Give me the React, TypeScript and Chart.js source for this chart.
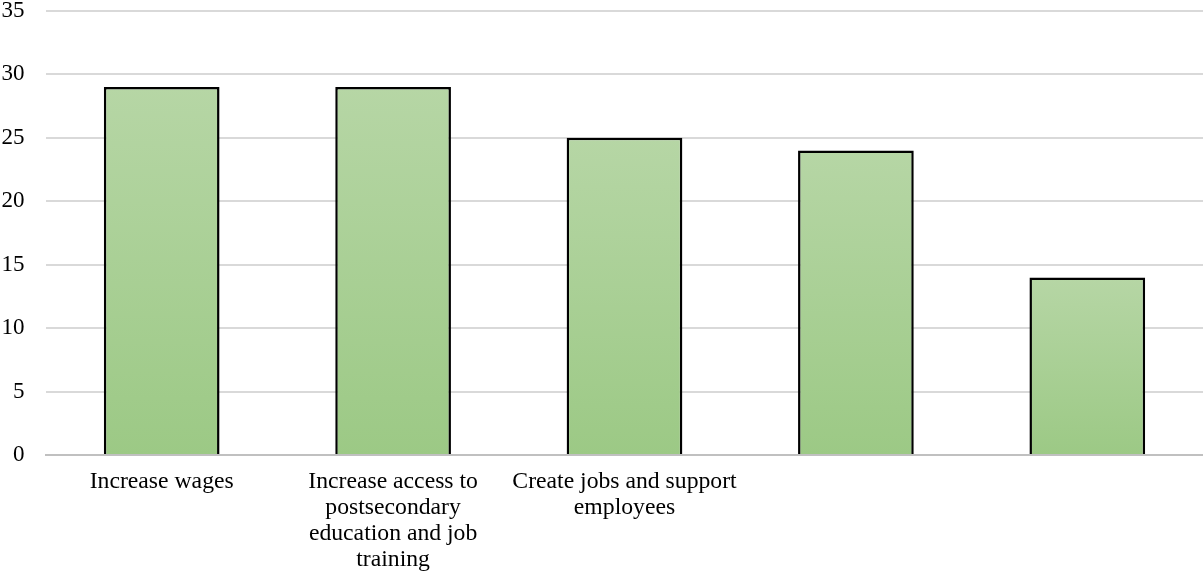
import React, { useEffect, useRef } from "react";
import { Chart, registerables } from "chart.js";

Chart.register(...registerables);

const categories: (string | string[])[] = [
  "Increase wages",
  ["Increase access to", "postsecondary", "education and job", "training"],
  ["Create jobs and support", "employees"],
  "",
  "",
];
const values = [29, 29, 25, 24, 14];
const yTicks = [0, 5, 10, 15, 20, 25, 30, 35];

export default function App() {
  const ref = useRef<HTMLCanvasElement>(null);
  useEffect(() => {
    document.body.style.margin = "0";
    const canvas = ref.current!;
    const chart = new Chart(canvas, {
      type: "bar",
      data: {
        labels: categories,
        datasets: [
          {
            data: values,
            backgroundColor: (ctx: any) => {
              const c = ctx.chart;
              const area = c.chartArea;
              if (!area) return "#abcf97";
              const ys = c.scales.y;
              const v = values[ctx.dataIndex] ?? 0;
              const top = ys.getPixelForValue(v);
              const bottom = ys.getPixelForValue(0);
              const g = c.ctx.createLinearGradient(0, top, 0, bottom);
              g.addColorStop(0, "#b6d6a5");
              g.addColorStop(1, "#9cc985");
              return g;
            },
            borderColor: "#000000",
            borderWidth: 2.5,
            borderSkipped: "bottom",
            categoryPercentage: 1,
            barPercentage: 0.5,
          },
        ],
      },
      options: {
        animation: false,
        responsive: false,
        maintainAspectRatio: false,
        layout: { padding: 0 },
        plugins: { legend: { display: false }, tooltip: { enabled: false } },
        scales: {
          x: {
            grid: { display: false, drawTicks: false },
            border: { display: true, color: "#c0c0c0", width: 2 },
            ticks: {
              color: "#000",
              font: { family: "'Liberation Serif', 'Times New Roman', serif", size: 23.7, lineHeight: 1.1 },
              padding: 14,
              maxRotation: 0,
              autoSkip: false,
            },
            afterFit: (s: any) => {
              s.height = 122;
              s.paddingLeft = 0;
              s.paddingRight = 0;
            },
          },
          y: {
            min: 0,
            max: 35,
            afterBuildTicks: (s: any) => {
              s.ticks = yTicks.map((v) => ({ value: v }));
            },
            grid: { color: "#d9d9d9", lineWidth: 2, drawTicks: false },
            border: { display: false },
            ticks: {
              color: "#000",
              font: { family: "'Liberation Serif', 'Times New Roman', serif", size: 23 },
              padding: 21.5,
            },
            afterFit: (s: any) => {
              s.width = 46;
              s.paddingTop = 11;
              s.paddingBottom = 0;
            },
          },
        },
      },
    });
    return () => chart.destroy();
  }, []);
  return (
    <div style={{ position: "absolute", left: 0, top: 0, width: 1203, height: 577 }}>
      <canvas ref={ref} width={1203} height={577} style={{ width: 1203, height: 577 }} />
    </div>
  );
}
